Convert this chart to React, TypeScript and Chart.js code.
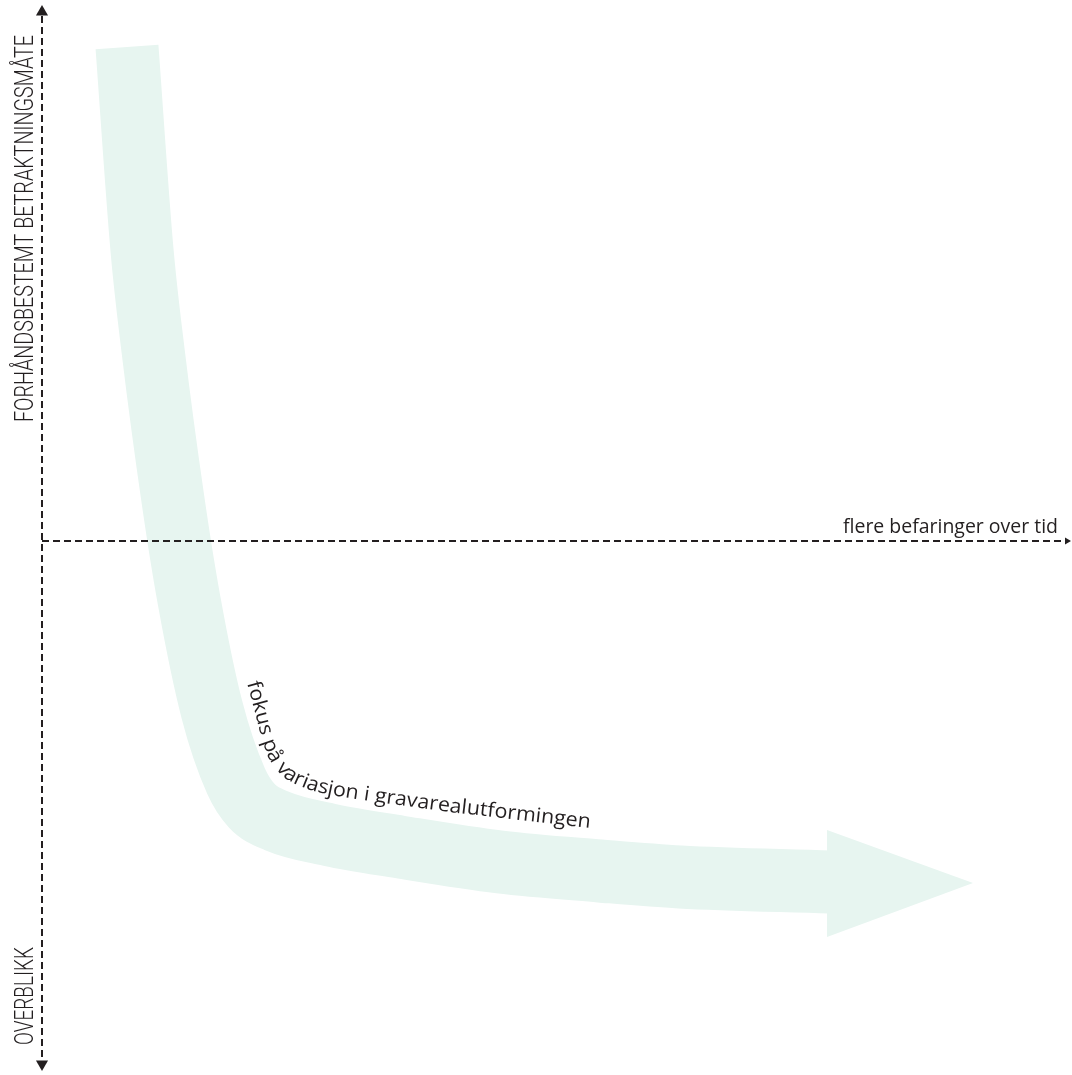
import React, { useEffect, useRef } from "react";
import { Chart, registerables } from "chart.js";

Chart.register(...registerables);

// ---- diagram coordinate space ----
const xRange = [0, 1072];
const yRange = [0, 1075];

// centre line of the broad curved band
const bandX = [127, 142, 153, 173, 189, 212, 236, 252, 277, 330, 400, 500, 600, 680, 830];
const bandY = [47, 250, 350, 500, 600, 710, 781, 806, 821, 835, 847, 862, 871, 877, 882];

// arrow head (upper and lower edge, filled between)
const headUpperX = [827, 973];
const headUpperY = [830, 883];
const headLowerX = [827, 973];
const headLowerY = [937, 883];

// dashed axes
const vAxisX = [42, 42];
const vAxisY = [16, 1060];
const hAxisX = [42, 1066];
const hAxisY = [541, 541];

// axis arrow tips
const arrowX = [42, 42, 1067];
const arrowY = [12, 1064, 541];
const arrowRotation = [0, 180, 90];
const arrowSize = [7, 7, 4];

// texts
const yLabelTop = "FORHÅNDSBESTEMT BETRAKTNINGSMÅTE";
const yLabelBottom = "OVERBLIKK";
const xLabel = "flere befaringer over tid";
const curveLabel = "fokus på variasjon i gravarealutformingen";

// baseline that the curved text follows
const curvePathX = [247, 255, 262, 268, 275, 283, 295, 310, 330, 370, 450, 520, 590];
const curvePathY = [683, 712, 740, 757, 768, 777, 784, 790, 795, 801, 812, 820, 828];

const INK = "#231f20";
const BAND = "#e7f5f0";

const pts = (xs: number[], ys: number[]) => xs.map((x, i) => ({ x, y: ys[i] }));

function drawStretched(ctx: CanvasRenderingContext2D, text: string, x: number, y: number, angle: number, length: number, font: string) {
  ctx.save();
  ctx.translate(x, y);
  ctx.rotate(angle);
  ctx.font = font;
  const w = ctx.measureText(text).width;
  ctx.scale(length / w, 1);
  ctx.textAlign = "left";
  ctx.textBaseline = "alphabetic";
  ctx.fillText(text, 0, 0);
  ctx.restore();
}

const textPlugin = {
  id: "diagramText",
  afterDatasetsDraw(chart: any) {
    const ctx: CanvasRenderingContext2D = chart.ctx;
    const sx = chart.scales.x;
    const sy = chart.scales.y;
    const px = (v: number) => sx.getPixelForValue(v);
    const py = (v: number) => sy.getPixelForValue(v);
    ctx.save();
    ctx.fillStyle = INK;

    const vFont = '300 25px Roboto, "Liberation Sans Narrow", "DejaVu Sans Condensed", sans-serif';
    drawStretched(ctx, yLabelTop, px(33), py(422), -Math.PI / 2, py(422) - py(35), vFont);
    drawStretched(ctx, yLabelBottom, px(33), py(1045), -Math.PI / 2, py(1045) - py(947), vFont);

    const hFont = '20px "Open Sans", "Noto Sans", sans-serif';
    drawStretched(ctx, xLabel, px(843), py(533), 0, px(1058) - px(843), hFont);

    // curved text along path
    const p = curvePathX.map((v, i) => ({ x: px(v), y: py(curvePathY[i]) }));
    const cum = [0];
    for (let i = 1; i < p.length; i++) {
      cum.push(cum[i - 1] + Math.hypot(p[i].x - p[i - 1].x, p[i].y - p[i - 1].y));
    }
    const total = cum[cum.length - 1];
    const at = (s: number) => {
      if (s <= 0) {
        const a = Math.atan2(p[1].y - p[0].y, p[1].x - p[0].x);
        return { x: p[0].x + Math.cos(a) * s, y: p[0].y + Math.sin(a) * s };
      }
      if (s >= total) {
        const n = p.length - 1;
        const a = Math.atan2(p[n].y - p[n - 1].y, p[n].x - p[n - 1].x);
        return { x: p[n].x + Math.cos(a) * (s - total), y: p[n].y + Math.sin(a) * (s - total) };
      }
      let i = 1;
      while (cum[i] < s) i++;
      const t = (s - cum[i - 1]) / (cum[i] - cum[i - 1]);
      return { x: p[i - 1].x + (p[i].x - p[i - 1].x) * t, y: p[i - 1].y + (p[i].y - p[i - 1].y) * t };
    };
    const cFont = '20px "Open Sans", "Noto Sans", sans-serif';
    ctx.font = cFont;
    const chars = Array.from(curveLabel);
    const widths = chars.map((c) => ctx.measureText(c).width);
    const sum = widths.reduce((a, b) => a + b, 0);
    const k = total / sum;
    let s = 0;
    chars.forEach((c, i) => {
      const w = widths[i] * k;
      const mid = s + w / 2;
      const m = at(mid);
      const a0 = at(mid - 4);
      const a1 = at(mid + 4);
      const ang = Math.atan2(a1.y - a0.y, a1.x - a0.x);
      ctx.save();
      ctx.translate(m.x, m.y);
      ctx.rotate(ang);
      ctx.scale(k, 1);
      ctx.textAlign = "center";
      ctx.textBaseline = "alphabetic";
      ctx.fillText(c, 0, 0);
      ctx.restore();
      s += w;
    });
    ctx.restore();
  },
};

export default function App() {
  const ref = useRef<HTMLCanvasElement>(null);
  useEffect(() => {
    const chart = new Chart(ref.current as HTMLCanvasElement, {
      type: "line",
      data: {
        datasets: [
          {
            data: pts(bandX, bandY),
            borderColor: BAND,
            borderWidth: 63,
            borderCapStyle: "butt",
            borderJoinStyle: "round",
            cubicInterpolationMode: "monotone",
            pointRadius: 0,
            fill: false,
            order: 6,
          },
          {
            data: pts(headUpperX, headUpperY),
            borderColor: BAND,
            borderWidth: 0,
            backgroundColor: BAND,
            pointRadius: 0,
            tension: 0,
            fill: false,
            order: 5,
          },
          {
            data: pts(headLowerX, headLowerY),
            borderColor: BAND,
            borderWidth: 0,
            backgroundColor: BAND,
            pointRadius: 0,
            tension: 0,
            fill: "-1",
            order: 4,
          },
          {
            data: pts(vAxisX, vAxisY),
            borderColor: INK,
            borderWidth: 2,
            borderDash: [7, 4],
            pointRadius: 0,
            tension: 0,
            fill: false,
            order: 2,
          },
          {
            data: pts(hAxisX, hAxisY),
            borderColor: INK,
            borderWidth: 2,
            borderDash: [7, 4],
            pointRadius: 0,
            tension: 0,
            fill: false,
            order: 2,
          },
          {
            data: pts(arrowX, arrowY),
            showLine: false,
            pointStyle: "triangle",
            pointRadius: arrowSize,
            pointRotation: arrowRotation,
            pointBackgroundColor: INK,
            pointBorderColor: INK,
            pointBorderWidth: 0,
            fill: false,
            order: 1,
          },
        ] as any,
      },
      options: {
        animation: false,
        responsive: false,
        events: [],
        layout: { padding: 0, autoPadding: false },
        plugins: { legend: { display: false }, tooltip: { enabled: false } },
        scales: {
          x: { type: "linear", min: xRange[0], max: xRange[1], display: false },
          y: { type: "linear", min: yRange[0], max: yRange[1], reverse: true, display: false },
        },
      },
      plugins: [textPlugin],
    });
    return () => chart.destroy();
  }, []);
  return (
    <div style={{ position: "absolute", left: 0, top: 0, width: 1072, height: 1075, background: "#fff" }}>
      <canvas ref={ref} width={1072} height={1075} style={{ display: "block", width: 1072, height: 1075 }} />
    </div>
  );
}
